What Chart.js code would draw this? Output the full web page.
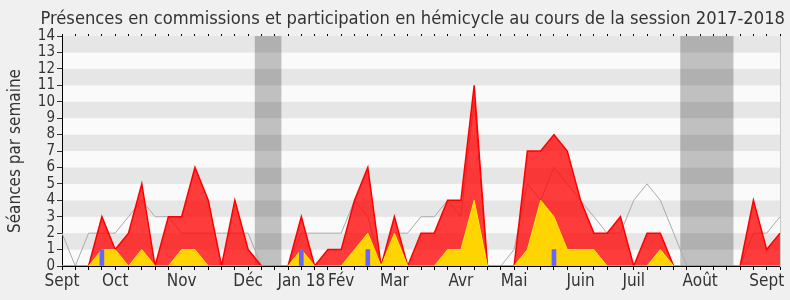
<!DOCTYPE html>
<html>
<head>
<meta charset="utf-8">
<script src="https://cdn.jsdelivr.net/npm/chart.js@4/dist/chart.umd.min.js"></script>
<style>
  html, body { margin: 0; padding: 0; background: #f0f0f0; }
  canvas { display: block; }
</style>
</head>
<body>
<canvas id="chart" width="790" height="300"></canvas>
<script>
// one entry per week, Sept 2017 -> Sept 2018
const weeks = ['Sept', '', '', '', 'Oct', '', '', '', '', 'Nov', '', '', '', '', 'Déc', '', '', '',
  'Jan 18', '', '', 'Fév', '', '', '', 'Mar', '', '', '', '', 'Avr', '', '', '', 'Mai', '', '', '', '',
  'Juin', '', '', '', 'Juil', '', '', '', '', 'Août', '', '', '', '', 'Sept', ''];

const presences = [0, 0, 0, 3, 1, 2, 5, 0, 3, 3, 6, 4, 0, 4, 1, 0, 0, 0, 3, 0, 1, 1, 4, 6, 0, 3, 0, 2,
  2, 4, 4, 11, 0, 0, 0, 7, 7, 8, 7, 4, 2, 2, 3, 0, 2, 2, 0, 0, 0, 0, 0, 0, 4, 1, 2];
const hemicycle = [0, 0, 0, 1, 1, 0, 1, 0, 0, 1, 1, 0, 0, 0, 0, 0, 0, 0, 1, 0, 0, 0, 1, 2, 0, 2, 0, 0,
  0, 1, 1, 4, 0, 0, 0, 1, 4, 3, 1, 1, 1, 0, 0, 0, 0, 1, 0, 0, 0, 0, 0, 0, 0, 0, 0];
const mediane = [2, 0, 2, 2, 2, 3, 4, 3, 3, 2, 2, 2, 2, 2, 2, 0, 0, 0, 2, 2, 2, 2, 4, 3, 0, 2, 2, 3,
  3, 4, 3, 10, 0, 0, 1, 5, 4, 6, 5, 4, 3, 2, 2, 4, 5, 4, 2, 0, 0, 0, 0, 0, 2, 2, 3];
const questions = [null, null, null, 1, null, null, null, null, null, null, null, null, null, null, null,
  null, null, null, 1, null, null, null, null, 1, null, null, null, null, null, null, null, null, null,
  null, null, null, null, 1, null, null, null, null, null, null, null, null, null, null, null, null,
  null, null, null, null, null];
// weeks without sessions (indexes into weeks)
const vacances = [15, 16, 47, 48, 49, 50];

Chart.defaults.font.family = "'DejaVu Sans Condensed', 'DejaVu Sans', sans-serif";
Chart.defaults.color = '#333';

const stripes = {
  id: 'stripes',
  beforeDraw(chart) {
    const { ctx, chartArea: area, scales: { y } } = chart;
    ctx.save();
    for (let v = 0; v < 14; v++) {
      ctx.fillStyle = v % 2 ? '#e6e6e6' : '#fafafa';
      const top = y.getPixelForValue(v + 1);
      const bottom = y.getPixelForValue(v);
      ctx.fillRect(area.left, top, area.right - area.left, bottom - top);
    }
    ctx.restore();
  },
  beforeDatasetsDraw(chart) {
    const { ctx, chartArea: area, scales: { x } } = chart;
    ctx.save();
    ctx.fillStyle = 'rgba(0,0,0,0.23)';
    let i = 0;
    while (i < vacances.length) {
      let j = i;
      while (j + 1 < vacances.length && vacances[j + 1] === vacances[j] + 1) j++;
      const left = x.getPixelForValue(vacances[i] - 0.5);
      const right = x.getPixelForValue(vacances[j] + 0.5);
      ctx.fillRect(left, area.top, right - left, area.bottom - area.top);
      i = j + 1;
    }
    ctx.restore();
  }
};

new Chart(document.getElementById('chart'), {
  type: 'line',
  data: {
    labels: weeks,
    datasets: [
      {
        type: 'bar', data: questions, backgroundColor: '#6666ff',
        barThickness: 4, grouped: false, order: 0
      },
      {
        data: hemicycle, borderColor: '#ffee00', borderWidth: 1,
        backgroundColor: '#ffd400', fill: 'origin', pointRadius: 0, order: 1
      },
      {
        data: presences, borderColor: '#ff0000', borderWidth: 1.5,
        backgroundColor: 'rgba(255,0,0,0.76)', fill: 'origin', pointRadius: 0, order: 2
      },
      {
        data: mediane, borderColor: '#aaaaaa', borderWidth: 1,
        fill: false, pointRadius: 0, order: 3
      }
    ]
  },
  options: {
    responsive: false,
    animation: false,
    devicePixelRatio: 1,
    layout: { padding: { right: 5 } },
    plugins: {
      legend: { display: false },
      tooltip: { enabled: false },
      title: {
        display: true,
        align: 'end',
        text: 'Présences en commissions et participation en hémicycle au cours de la session 2017-2018',
        color: '#333',
        font: { size: 18.2, weight: 'normal' },
        padding: { top: 8, bottom: 2 }
      }
    },
    scales: {
      x: {
        type: 'category',
        offset: false,
        grid: { drawOnChartArea: false, tickLength: 4, tickColor: '#000', offset: false },
        border: { color: '#000' },
        ticks: { autoSkip: false, maxRotation: 0, padding: 1, font: { size: 17 } },
        afterFit(s) { s.height = 34; }
      },
      xTop: {
        type: 'category',
        position: 'top',
        offset: false,
        grid: { drawOnChartArea: false, tickLength: 2, tickColor: '#000', offset: false },
        border: { display: false },
        ticks: { display: false },
        afterFit(s) { s.height = 4.2; }
      },
      y: {
        min: 0,
        max: 14,
        ticks: { stepSize: 1, autoSkip: false, padding: 2, font: { size: 15 } },
        grid: { drawOnChartArea: false, tickLength: 5, tickColor: '#333' },
        border: { color: '#000' },
        title: {
          display: true, text: 'Séances par semaine', color: '#333',
          font: { size: 17 }, padding: { top: 5, bottom: 0 }
        },
        afterFit(s) { s.width = 62; }
      },
      yRight: {
        position: 'right',
        grid: { drawOnChartArea: false, drawTicks: false },
        border: { color: '#c8c8c8' },
        ticks: { display: false },
        afterFit(s) { s.width = 5; }
      }
    }
  },
  plugins: [stripes]
});
</script>
</body>
</html>
